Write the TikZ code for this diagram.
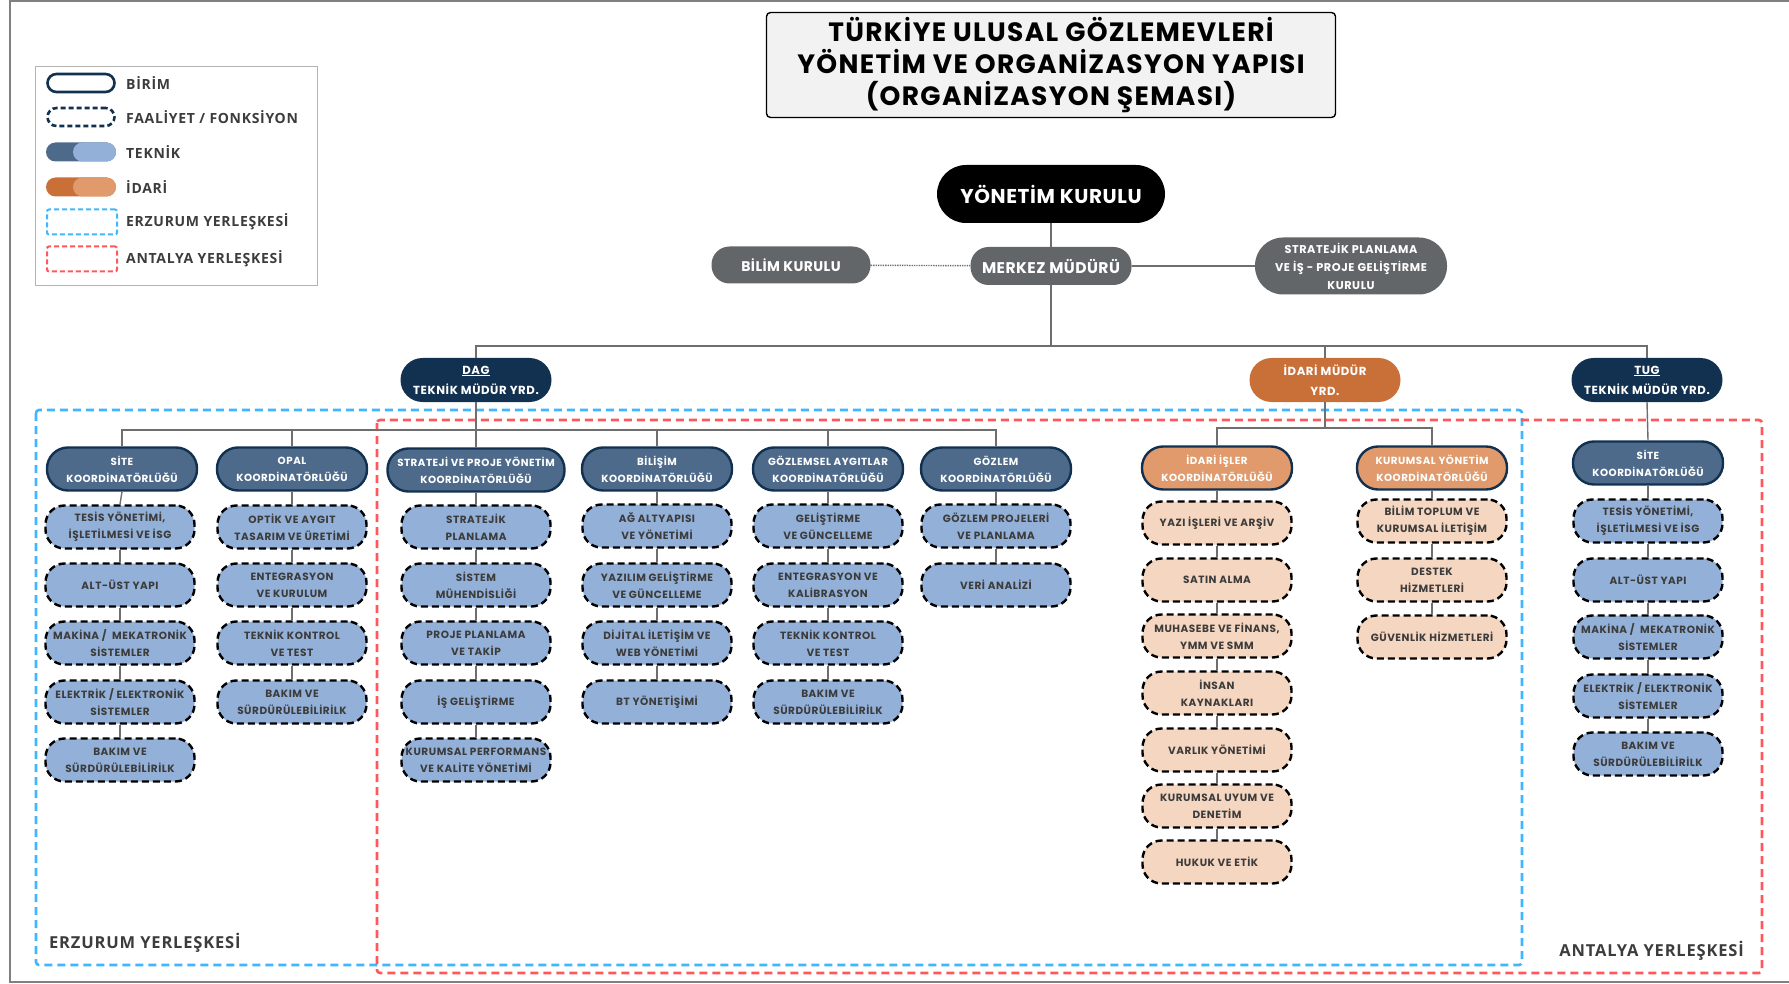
\documentclass[tikz,border=0pt]{standalone}
\usepackage{fontspec}
\setmainfont{Poppins}
\newfontfamily\trackA{Poppins}[LetterSpace=5]
\newfontfamily\trackB{Poppins}[LetterSpace=3]
\newfontfamily\labfont{Open Sans}[LetterSpace=5]

\definecolor{navy}{HTML}{12304F}
\definecolor{slate}{HTML}{4E6A8B}
\definecolor{skyb}{HTML}{93B1D8}
\definecolor{orng}{HTML}{C96F38}
\definecolor{peachd}{HTML}{E09A6B}
\definecolor{peach}{HTML}{F5D6C0}
\definecolor{boardgray}{HTML}{636669}
\definecolor{linkgray}{HTML}{6E6E6E}
\definecolor{inkgray}{HTML}{3C3C3C}
\definecolor{erzblue}{HTML}{3FB6FF}
\definecolor{antred}{HTML}{FF575C}
\definecolor{titlegray}{HTML}{F2F2F2}
\definecolor{framegray}{HTML}{808080}
\definecolor{legendgray}{HTML}{B4B4B4}

\begin{document}
\begin{tikzpicture}[x=1pt, y=-1pt,
    every node/.style={align=center, inner sep=0pt},
    headbox/.style={rounded corners=22pt, minimum width=151pt, minimum height=44pt, text=white, font=\trackA\fontsize{11.7}{20}\selectfont\bfseries},
    coordbox/.style={draw=navy, line width=2.4pt, fill=slate, rounded corners=21pt, minimum width=150pt, minimum height=43pt, text=white, font=\trackA\fontsize{10.3}{17}\selectfont\bfseries},
    icoordbox/.style={coordbox, fill=peachd},
    taskbox/.style={draw=black, line width=2.4pt, dash pattern=on 7pt off 4pt, fill=skyb, rounded corners=19pt, minimum width=149pt, minimum height=43pt, text=inkgray, font=\trackA\fontsize{10.5}{17}\selectfont\bfseries},
    itaskbox/.style={taskbox, fill=peach},
    boardbox/.style={fill=boardgray, rounded corners=18pt, text=white, font=\trackB\fontsize{14}{14}\selectfont\bfseries},
    labeltext/.style={anchor=west, text=inkgray, font=\labfont\fontsize{14}{14}\selectfont\bfseries},
    zonetext/.style={text=inkgray, font=\labfont\fontsize{16.5}{16.5}\selectfont\bfseries},
    linkline/.style={draw=linkgray, line width=1.4pt}]
    \useasboundingbox (0,0) rectangle (1789,984);

    % frame and legend
    \draw[framegray, line width=1.8pt] (1789,1) -- (10,1) -- (10,982) -- (1789,982);
    \draw[legendgray, line width=1pt] (35,67) rectangle (317,286);

    \node[draw=navy, line width=2.6pt, fill=white, rounded corners=9pt, minimum width=67pt, minimum height=18pt] (LB) at (81,83) {};
    \node[draw=navy, line width=2.6pt, dash pattern=on 5pt off 3pt, fill=white, rounded corners=9pt, minimum width=67pt, minimum height=18pt] (LF) at (81,117) {};
    \node[fill=slate, rounded corners=9.5pt, minimum width=70pt, minimum height=19pt] (LT) at (81,152) {};
    \node[fill=skyb, rounded corners=9.5pt, minimum width=43pt, minimum height=19pt] (LT2) at (94.5,152) {};
    \node[fill=orng, rounded corners=9.5pt, minimum width=70pt, minimum height=19pt] (LI) at (81,187) {};
    \node[fill=peachd, rounded corners=9.5pt, minimum width=43pt, minimum height=19pt] (LI2) at (94.5,187) {};
    \node[draw=erzblue, line width=2pt, dash pattern=on 5pt off 3pt, rounded corners=2pt, minimum width=70pt, minimum height=25pt] (LE) at (82,222) {};
    \node[draw=antred, line width=2pt, dash pattern=on 5pt off 3pt, rounded corners=2pt, minimum width=70pt, minimum height=25pt] (LA) at (82,259) {};

    \node[labeltext] at (126,83) {BİRİM};
    \node[labeltext] at (126,117) {FAALİYET / FONKSİYON};
    \node[labeltext] at (126,152) {TEKNİK};
    \node[labeltext] at (126,187) {İDARİ};
    \node[labeltext] at (126,222) {ERZURUM YERLEŞKESİ};
    \node[labeltext] at (126,259) {ANTALYA YERLEŞKESİ};

    % campus areas
    \draw[erzblue, line width=2.6pt, dash pattern=on 8pt off 5pt, rounded corners=3pt] (36,410) rectangle (1522,965);
    \draw[antred, line width=2.6pt, dash pattern=on 8pt off 5pt, rounded corners=3pt] (377,420) rectangle (1762,973);
    \node[zonetext, anchor=west] at (49,943) {ERZURUM YERLEŞKESİ};
    \node[zonetext, anchor=east] at (1744,951) {ANTALYA YERLEŞKESİ};

    % title
    \node[draw=black, line width=1.4pt, fill=titlegray, rounded corners=4pt, minimum width=569pt, minimum height=105pt, font=\trackA\fontsize{26.5}{32}\selectfont\bfseries] (T) at (1051,65) {TÜRKİYE ULUSAL GÖZLEMEVLERİ\\YÖNETİM VE ORGANİZASYON YAPISI\\(ORGANİZASYON ŞEMASI)};

    % top management
    \node[fill=black, rounded corners=29pt, minimum width=228pt, minimum height=58pt, text=white, font=\trackB\fontsize{20}{20}\selectfont\bfseries] (YK) at (1051,194) {YÖNETİM KURULU};
    \node[boardbox, minimum width=159pt, minimum height=37pt] (BK) at (791,265) {BİLİM KURULU};
    \node[boardbox, minimum width=161pt, minimum height=38pt, font=\trackB\fontsize{15.5}{15.5}\selectfont\bfseries] (MM) at (1051,266) {MERKEZ MÜDÜRÜ};
    \node[boardbox, minimum width=192pt, minimum height=57pt, rounded corners=28pt, font=\trackA\fontsize{11.3}{18}\selectfont\bfseries] (SP) at (1351,266) {STRATEJİK PLANLAMA\\VE İŞ - PROJE GELİŞTİRME\\KURULU};

    \node[headbox, fill=navy] (DAG) at (476,380) {\underline{DAG}\\TEKNİK MÜDÜR YRD.};
    \node[headbox, fill=orng] (IMY) at (1325,380) {İDARİ MÜDÜR\\YRD.};
    \node[headbox, fill=navy] (TUG) at (1647,380) {\underline{TUG}\\TEKNİK MÜDÜR YRD.};

    \coordinate (TOPBUS) at (1051,346);
    \coordinate (DAGBUS) at (476,430);
    \coordinate (IDBUS) at (1325,428);

    % DAG coordinators
    \node[coordbox] (SITE) at (122,469) {SİTE\\KOORDİNATÖRLÜĞÜ};
    \node[coordbox] (OPAL) at (292,469) {OPAL\\KOORDİNATÖRLÜĞÜ};
    \node[coordbox, minimum width=177pt] (SPY) at (476,470) {STRATEJİ VE PROJE YÖNETİM\\KOORDİNATÖRLÜĞÜ};
    \node[coordbox] (BIL) at (657,469) {BİLİŞİM\\KOORDİNATÖRLÜĞÜ};
    \node[coordbox] (GAY) at (828,469) {GÖZLEMSEL AYGITLAR\\KOORDİNATÖRLÜĞÜ};
    \node[coordbox] (GOZ) at (996,469) {GÖZLEM\\KOORDİNATÖRLÜĞÜ};

    \node[taskbox] (S1) at (120,527) {TESİS YÖNETİMİ,\\İŞLETİLMESİ VE İSG};
    \node[taskbox] (S2) at (120,585) {ALT-ÜST YAPI};
    \node[taskbox] (S3) at (120,643) {MAKİNA /\ \ MEKATRONİK\\SİSTEMLER};
    \node[taskbox] (S4) at (120,702) {ELEKTRİK / ELEKTRONİK\\SİSTEMLER};
    \node[taskbox] (S5) at (120,760) {BAKIM VE\\SÜRDÜRÜLEBİLİRİLK};

    \node[taskbox] (O1) at (292,527) {OPTİK VE AYGIT\\TASARIM VE ÜRETİMİ};
    \node[taskbox] (O2) at (292,585) {ENTEGRASYON\\VE KURULUM};
    \node[taskbox] (O3) at (292,643) {TEKNİK KONTROL\\VE TEST};
    \node[taskbox] (O4) at (292,702) {BAKIM VE\\SÜRDÜRÜLEBİLİRİLK};

    \node[taskbox] (P1) at (476,527) {STRATEJİK\\PLANLAMA};
    \node[taskbox] (P2) at (476,585) {SİSTEM\\MÜHENDİSLİĞİ};
    \node[taskbox] (P3) at (476,643) {PROJE PLANLAMA\\VE TAKİP};
    \node[taskbox] (P4) at (476,702) {İŞ GELİŞTİRME};
    \node[taskbox] (P5) at (476,760) {KURUMSAL PERFORMANS\\VE KALİTE YÖNETİMİ};

    \node[taskbox] (B1) at (657,526) {AĞ ALTYAPISI\\VE YÖNETİMİ};
    \node[taskbox] (B2) at (657,585) {YAZILIM GELİŞTİRME\\VE GÜNCELLEME};
    \node[taskbox] (B3) at (657,643) {DİJİTAL İLETİŞİM VE\\WEB YÖNETİMİ};
    \node[taskbox] (B4) at (657,702) {BT YÖNETİŞİMİ};

    \node[taskbox] (G1) at (828,526) {GELİŞTİRME\\VE GÜNCELLEME};
    \node[taskbox] (G2) at (828,585) {ENTEGRASYON VE\\KALİBRASYON};
    \node[taskbox] (G3) at (828,643) {TEKNİK KONTROL\\VE TEST};
    \node[taskbox] (G4) at (828,702) {BAKIM VE\\SÜRDÜRÜLEBİLİRİLK};

    \node[taskbox] (V1) at (996,526) {GÖZLEM PROJELERİ\\VE PLANLAMA};
    \node[taskbox] (V2) at (996,585) {VERİ ANALİZİ};

    % idari
    \node[icoordbox] (IIK) at (1217,468) {İDARİ İŞLER\\KOORDİNATÖRLÜĞÜ};
    \node[icoordbox] (KYK) at (1432,468) {KURUMSAL YÖNETİM\\KOORDİNATÖRLÜĞÜ};

    \node[itaskbox] (I1) at (1217,523) {YAZI İŞLERİ VE ARŞİV};
    \node[itaskbox] (I2) at (1217,580) {SATIN ALMA};
    \node[itaskbox] (I3) at (1217,636) {MUHASEBE VE FİNANS,\\YMM VE SMM};
    \node[itaskbox] (I4) at (1217,693) {İNSAN\\KAYNAKLARI};
    \node[itaskbox] (I5) at (1217,750) {VARLIK YÖNETİMİ};
    \node[itaskbox] (I6) at (1217,806) {KURUMSAL UYUM VE\\DENETİM};
    \node[itaskbox] (I7) at (1217,862) {HUKUK VE ETİK};

    \node[itaskbox] (K1) at (1432,521) {BİLİM TOPLUM VE\\KURUMSAL İLETİŞİM};
    \node[itaskbox] (K2) at (1432,580) {DESTEK\\HİZMETLERİ};
    \node[itaskbox] (K3) at (1432,637) {GÜVENLİK HİZMETLERİ};

    % tug
    \node[coordbox] (TSITE) at (1648,463) {SİTE\\KOORDİNATÖRLÜĞÜ};
    \node[taskbox] (T1) at (1648,521) {TESİS YÖNETİMİ,\\İŞLETİLMESİ VE İSG};
    \node[taskbox] (T2) at (1648,580) {ALT-ÜST YAPI};
    \node[taskbox] (T3) at (1648,637) {MAKİNA /\ \ MEKATRONİK\\SİSTEMLER};
    \node[taskbox] (T4) at (1648,696) {ELEKTRİK / ELEKTRONİK\\SİSTEMLER};
    \node[taskbox] (T5) at (1648,754) {BAKIM VE\\SÜRDÜRÜLEBİLİRİLK};

    % connectors
    \draw[linkline] (YK.south) -- (MM.north);
    \draw[linkline, densely dotted] (BK) -- (MM);
    \draw[linkline] (MM) -- (SP);
    \draw[linkline] (MM.south) -- (TOPBUS);
    \draw[linkline] (DAG.north) |- (TOPBUS);
    \draw[linkline] (IMY.north) |- (TOPBUS);
    \draw[linkline] (TUG.north) |- (TOPBUS);

    \draw[linkline] (DAG.south) -- (SPY.north);
    \draw[linkline] (SITE.north) |- (DAGBUS);
    \draw[linkline] (OPAL.north) |- (DAGBUS);
    \draw[linkline] (BIL.north) |- (DAGBUS);
    \draw[linkline] (GAY.north) |- (DAGBUS);
    \draw[linkline] (GOZ.north) |- (DAGBUS);

    \draw[linkline] (IMY.south) -- (IDBUS);
    \draw[linkline] (IIK.north) |- (IDBUS);
    \draw[linkline] (KYK.north) |- (IDBUS);
    \draw[linkline] (TUG.south) -- (TSITE.north);

    \draw[linkline] (SITE.south) -- (S1.north);
    \draw[linkline] (S1.south) -- (S2.north);
    \draw[linkline] (S2.south) -- (S3.north);
    \draw[linkline] (S3.south) -- (S4.north);
    \draw[linkline] (S4.south) -- (S5.north);

    \draw[linkline] (OPAL.south) -- (O1.north);
    \draw[linkline] (O1.south) -- (O2.north);
    \draw[linkline] (O2.south) -- (O3.north);
    \draw[linkline] (O3.south) -- (O4.north);

    \draw[linkline] (SPY.south) -- (P1.north);
    \draw[linkline] (P1.south) -- (P2.north);
    \draw[linkline] (P2.south) -- (P3.north);
    \draw[linkline] (P3.south) -- (P4.north);
    \draw[linkline] (P4.south) -- (P5.north);

    \draw[linkline] (BIL.south) -- (B1.north);
    \draw[linkline] (B1.south) -- (B2.north);
    \draw[linkline] (B2.south) -- (B3.north);
    \draw[linkline] (B3.south) -- (B4.north);

    \draw[linkline] (GAY.south) -- (G1.north);
    \draw[linkline] (G1.south) -- (G2.north);
    \draw[linkline] (G2.south) -- (G3.north);
    \draw[linkline] (G3.south) -- (G4.north);

    \draw[linkline] (GOZ.south) -- (V1.north);
    \draw[linkline] (V1.south) -- (V2.north);

    \draw[linkline] (IIK.south) -- (I1.north);
    \draw[linkline] (I1.south) -- (I2.north);
    \draw[linkline] (I2.south) -- (I3.north);
    \draw[linkline] (I3.south) -- (I4.north);
    \draw[linkline] (I4.south) -- (I5.north);
    \draw[linkline] (I5.south) -- (I6.north);
    \draw[linkline] (I6.south) -- (I7.north);

    \draw[linkline] (KYK.south) -- (K1.north);
    \draw[linkline] (K1.south) -- (K2.north);
    \draw[linkline] (K2.south) -- (K3.north);

    \draw[linkline] (TSITE.south) -- (T1.north);
    \draw[linkline] (T1.south) -- (T2.north);
    \draw[linkline] (T2.south) -- (T3.north);
    \draw[linkline] (T3.south) -- (T4.north);
    \draw[linkline] (T4.south) -- (T5.north);
\end{tikzpicture}
\end{document}
